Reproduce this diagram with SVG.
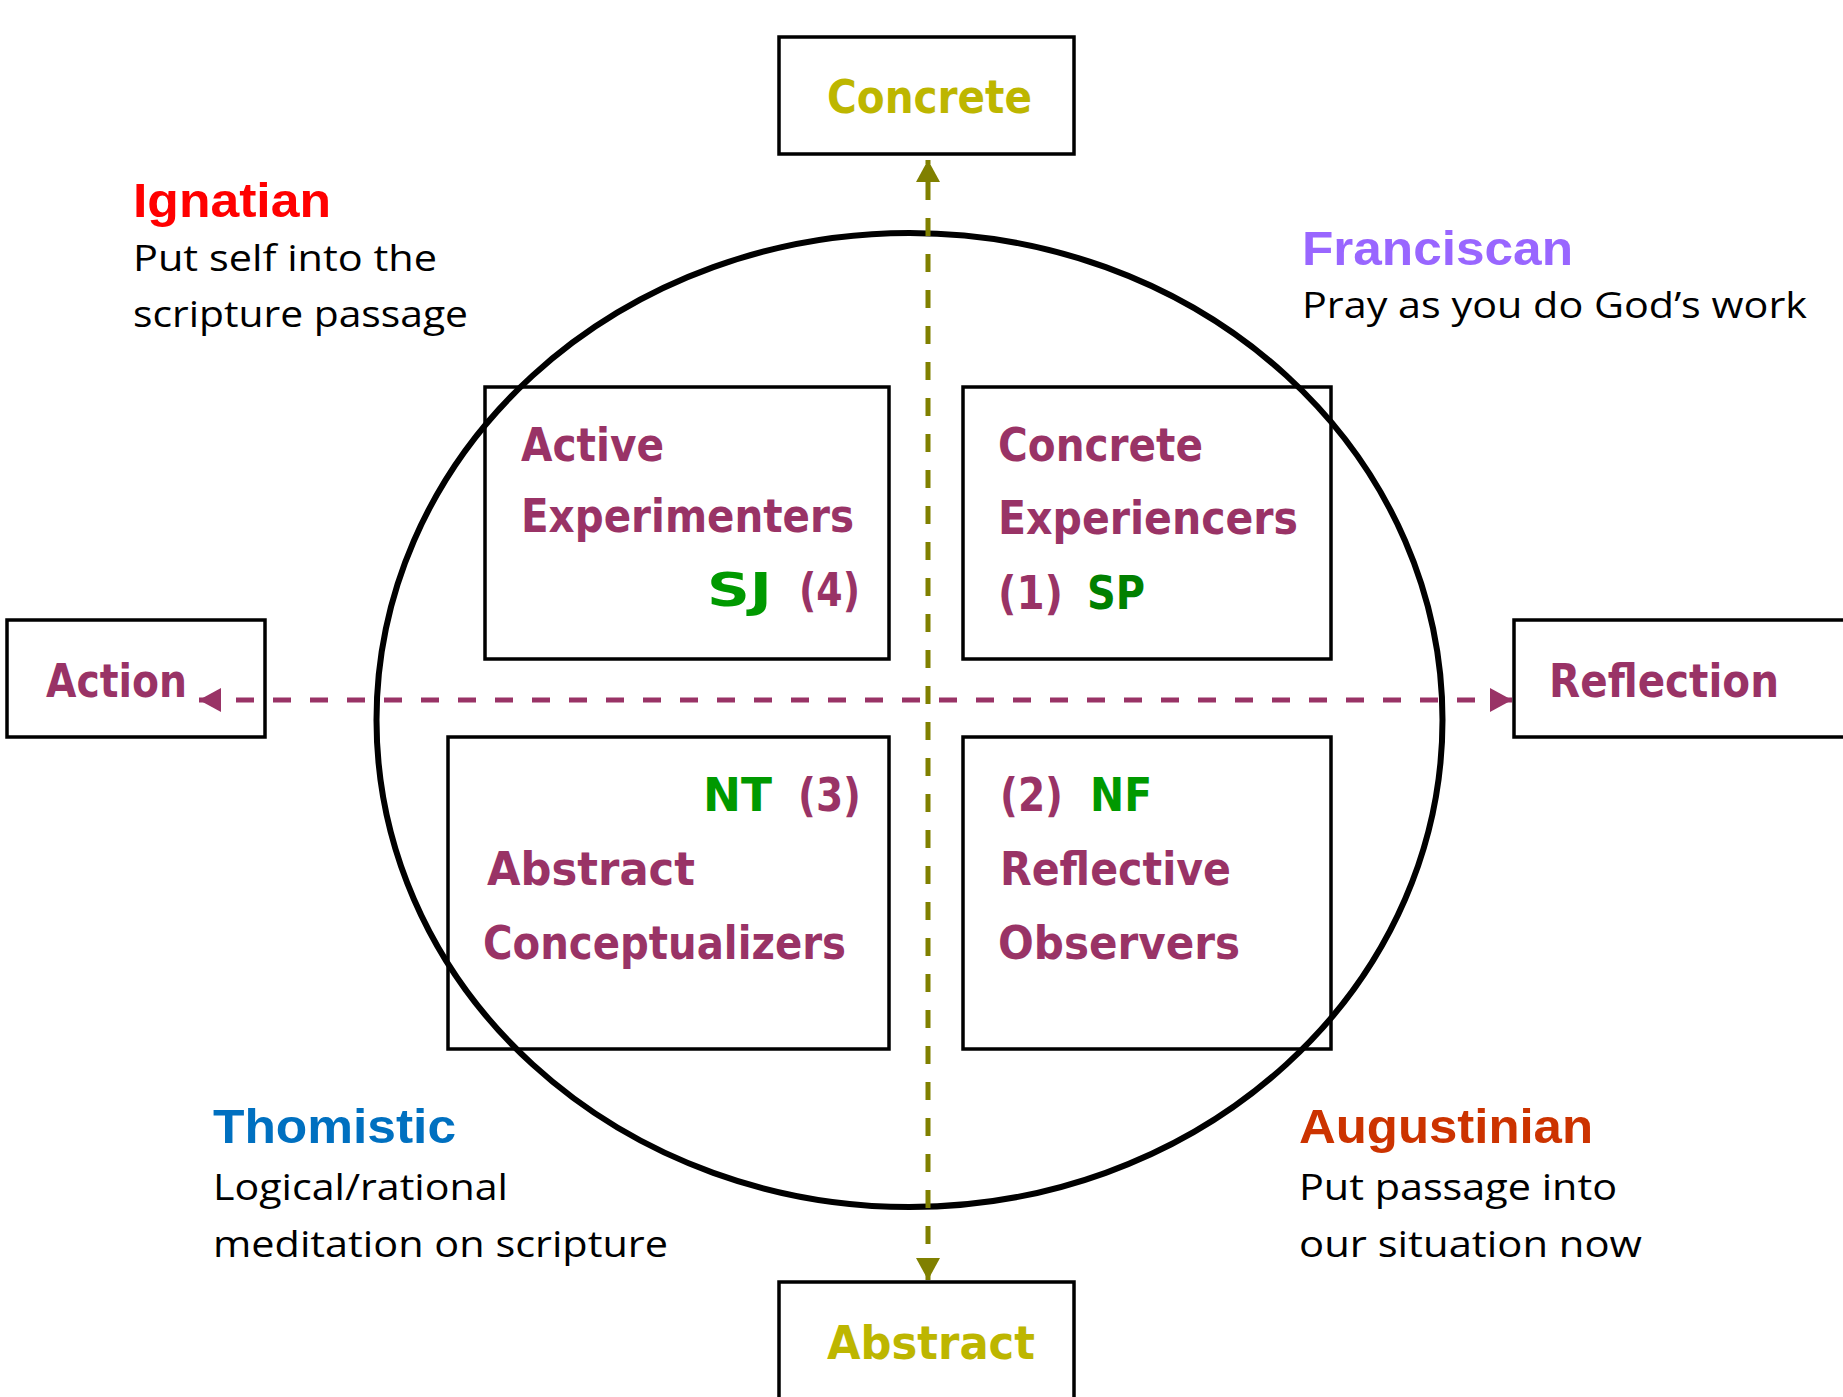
<svg xmlns="http://www.w3.org/2000/svg" width="1843" height="1397" viewBox="0 0 1843 1397">
<style>
.box{fill:none;stroke:#000;stroke-width:3.5}
.lbl{fill:#fff;stroke:#000;stroke-width:3.5}
.px{font-family:"DejaVu Sans",sans-serif;font-weight:bold;font-size:46px}
.pur{fill:#993366}
.grn{fill:#009900}
.grn2{fill:#008000}
.yel{fill:#BDB600}
.head{font-family:"Liberation Sans",Arial,sans-serif;font-weight:bold;font-size:48px}
.body{font-family:"Open Sans","Noto Sans",sans-serif;font-size:37px;fill:#000}
</style>
<defs>
<marker id="ah-p" markerUnits="userSpaceOnUse" markerWidth="24" markerHeight="24" refX="22" refY="12" orient="auto-start-reverse" viewBox="0 0 24 24">
<path d="M0,0 L22,12 L0,24 Z" fill="#993366"/>
</marker>
<marker id="ah-o" markerUnits="userSpaceOnUse" markerWidth="24" markerHeight="24" refX="22" refY="12" orient="auto-start-reverse" viewBox="0 0 24 24">
<path d="M0,0 L22,12 L0,24 Z" fill="#808000"/>
</marker>
</defs>
<rect width="1843" height="1397" fill="#fff"/>

<ellipse id="circle" cx="909.5" cy="720" rx="533" ry="487" fill="none" stroke="#000" stroke-width="6"/>

<g id="node-concrete">
<rect class="lbl" x="779" y="37" width="295" height="117"/>
<text class="px yel" x="827" y="113" textLength="205" lengthAdjust="spacingAndGlyphs">Concrete</text>
</g>
<g id="node-abstract">
<rect class="lbl" x="779" y="1282" width="295" height="200"/>
<text class="px yel" x="827" y="1359" textLength="208" lengthAdjust="spacingAndGlyphs">Abstract</text>
</g>
<g id="node-action">
<rect class="lbl" x="7" y="620" width="258" height="117"/>
<text class="px pur" x="46" y="697" textLength="141" lengthAdjust="spacingAndGlyphs">Action</text>
</g>
<g id="node-reflection">
<rect class="lbl" x="1514" y="620" width="400" height="117"/>
<text class="px pur" x="1549" y="697" textLength="230" lengthAdjust="spacingAndGlyphs">Reflection</text>
</g>

<g id="connectors">
<line x1="199" y1="700" x2="1512" y2="700" stroke="#993366" stroke-width="5" stroke-dasharray="18 19" marker-start="url(#ah-p)" marker-end="url(#ah-p)"/>
<line x1="928" y1="1280" x2="928" y2="160" stroke="#808000" stroke-width="5" stroke-dasharray="18 18" marker-start="url(#ah-o)" marker-end="url(#ah-o)"/>
</g>

<g id="node-active-experimenters">
<rect class="box" x="485" y="387" width="404" height="272"/>
<text class="px pur" x="521" y="461" textLength="143" lengthAdjust="spacingAndGlyphs">Active</text>
<text class="px pur" x="521" y="532" textLength="333" lengthAdjust="spacingAndGlyphs">Experimenters</text>
<text class="px grn" x="707" y="606" textLength="65" lengthAdjust="spacingAndGlyphs">SJ</text>
<text class="px pur" x="799" y="606" textLength="61" lengthAdjust="spacingAndGlyphs">(4)</text>
</g>
<g id="node-concrete-experiencers">
<rect class="box" x="963" y="387" width="368" height="272"/>
<text class="px pur" x="998" y="461" textLength="205" lengthAdjust="spacingAndGlyphs">Concrete</text>
<text class="px pur" x="998" y="534" textLength="300" lengthAdjust="spacingAndGlyphs">Experiencers</text>
<text class="px pur" x="998" y="609" textLength="65" lengthAdjust="spacingAndGlyphs">(1)</text>
<text class="px grn2" x="1087" y="609" textLength="58" lengthAdjust="spacingAndGlyphs">SP</text>
</g>
<g id="node-abstract-conceptualizers">
<rect class="box" x="448" y="737" width="441" height="312"/>
<text class="px grn" x="703" y="811" textLength="69" lengthAdjust="spacingAndGlyphs">NT</text>
<text class="px pur" x="798" y="811" textLength="63" lengthAdjust="spacingAndGlyphs">(3)</text>
<text class="px pur" x="487" y="885" textLength="208" lengthAdjust="spacingAndGlyphs">Abstract</text>
<text class="px pur" x="483" y="959" textLength="363" lengthAdjust="spacingAndGlyphs">Conceptualizers</text>
</g>
<g id="node-reflective-observers">
<rect class="box" x="963" y="737" width="368" height="312"/>
<text class="px pur" x="1000" y="811" textLength="63" lengthAdjust="spacingAndGlyphs">(2)</text>
<text class="px grn" x="1090" y="811" textLength="62" lengthAdjust="spacingAndGlyphs">NF</text>
<text class="px pur" x="1000" y="885" textLength="231" lengthAdjust="spacingAndGlyphs">Reflective</text>
<text class="px pur" x="998" y="959" textLength="242" lengthAdjust="spacingAndGlyphs">Observers</text>
</g>

<g id="note-ignatian">
<text class="head" x="133" y="217" fill="#FF0000" textLength="198" lengthAdjust="spacingAndGlyphs">Ignatian</text>
<text class="body" x="133" y="271" textLength="304" lengthAdjust="spacingAndGlyphs">Put self into the</text>
<text class="body" x="133" y="327" textLength="335" lengthAdjust="spacingAndGlyphs">scripture passage</text>
</g>
<g id="note-franciscan">
<text class="head" x="1302" y="265" fill="#9966FF" textLength="271" lengthAdjust="spacingAndGlyphs">Franciscan</text>
<text class="body" x="1302" y="318" textLength="505" lengthAdjust="spacingAndGlyphs">Pray as you do God’s work</text>
</g>
<g id="note-thomistic">
<text class="head" x="213" y="1143" fill="#0070C0" textLength="243" lengthAdjust="spacingAndGlyphs">Thomistic</text>
<text class="body" x="213" y="1200" textLength="295" lengthAdjust="spacingAndGlyphs">Logical/rational</text>
<text class="body" x="213" y="1257" textLength="455" lengthAdjust="spacingAndGlyphs">meditation on scripture</text>
</g>
<g id="note-augustinian">
<text class="head" x="1299" y="1143" fill="#CC3300" textLength="294" lengthAdjust="spacingAndGlyphs">Augustinian</text>
<text class="body" x="1299" y="1200" textLength="318" lengthAdjust="spacingAndGlyphs">Put passage into</text>
<text class="body" x="1299" y="1257" textLength="343" lengthAdjust="spacingAndGlyphs">our situation now</text>
</g>
</svg>
